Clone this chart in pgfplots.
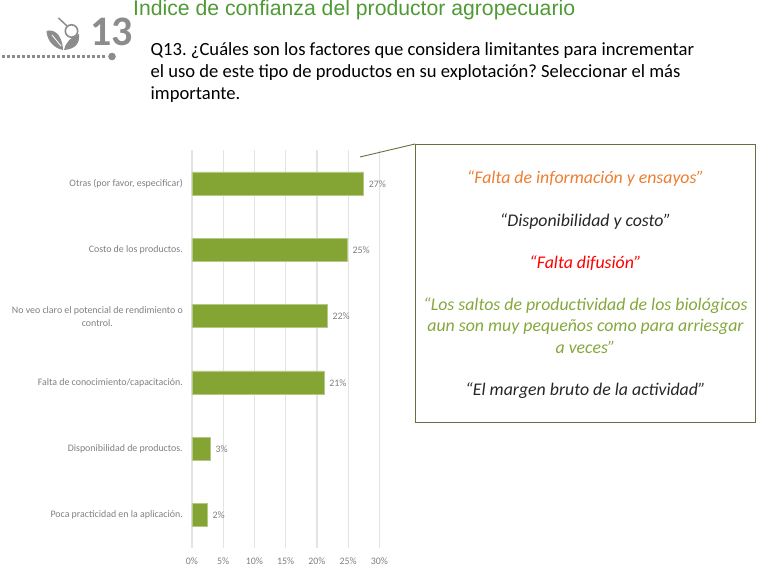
\documentclass[border=0pt]{standalone}
\usepackage{pgfplots}
\pgfplotsset{compat=1.18}
\usepackage{fontspec}
\setmainfont{Carlito}
\newfontfamily\titlefont{Liberation Sans}
\frenchspacing
\definecolor{bargreen}{HTML}{84A534}
\definecolor{titlegreen}{HTML}{4E9A34}
\definecolor{quotegreen}{HTML}{84A83C}
\definecolor{quoteorange}{HTML}{ED7D31}
\definecolor{ticktext}{HTML}{7F7F7F}
\definecolor{gridc}{HTML}{E4E4E4}
\definecolor{boxc}{HTML}{666E42}
\definecolor{icong}{HTML}{8C8C8C}
\begin{document}
\begin{tikzpicture}[x=1pt,y=1pt]
\path[use as bounding box] (0,0) rectangle (766,572);
\begin{axis}[
  at={(192pt,23.7pt)}, anchor=south west,
  scale only axis, width=187.5pt, height=398pt,
  xbar, bar width=23pt,
  xmin=0, xmax=30, ymin=-0.5, ymax=5.5,
  axis x line=bottom, axis y line=left,
  x axis line style={draw=none}, y axis line style={draw=none},
  xtick={0,5,10,15,20,25,30},
  xticklabels={0\%,5\%,10\%,15\%,20\%,25\%,30\%},
  ytick={0,1,2,3,4,5},
  yticklabels={Poca practicidad en la aplicación.,Disponibilidad de productos.,Falta de conocimiento/capacitación.,No veo claro el potencial de rendimiento o\\control.,Costo de los productos.,{Otras (por favor, especificar)}},
  yticklabel style={align=center, font=\fontsize{9.9}{13}\selectfont, text=ticktext, inner sep=0pt, xshift=-9pt},
  xticklabel style={font=\fontsize{9.9}{11}\selectfont, text=ticktext, inner sep=0pt, yshift=-9pt},
  major tick length=0pt,
  xmajorgrids, grid style={gridc, line width=1.2pt},
  clip=false,
  point meta=explicit symbolic,
  nodes near coords={\pgfplotspointmeta\%},
  nodes near coords style={font=\fontsize{9.9}{11}\selectfont, text=ticktext, anchor=west, xshift=2pt, yshift=-0.5pt},
]
\addplot[fill=bargreen, draw=bargreen!60!white, line width=0.5pt] coordinates {
 (2.4,0) [2]
 (2.9,1) [3]
 (21.1,2) [21]
 (21.6,3) [22]
 (24.8,4) [25]
 (27.4,5) [27]
};
\end{axis}
% title
\node[anchor=base west, inner sep=0pt, text=titlegreen, font=\titlefont\fontsize{21.2}{24}\selectfont] at (133,556) {Indice de confianza del productor agropecuario};
% question
\node[anchor=base west, inner sep=0pt, font=\fontsize{18.6}{22}\selectfont] at (150.5,516.5) {Q13. ¿Cuáles son los factores que considera limitantes para incrementar};
\node[anchor=base west, inner sep=0pt, font=\fontsize{18.6}{22}\selectfont] at (150.5,494.5) {el uso de este tipo de productos en su explotación? Seleccionar el más};
\node[anchor=base west, inner sep=0pt, font=\fontsize{18.6}{22}\selectfont] at (150.5,472.5) {importante.};
% 13 and icon
\node[anchor=base west, inner sep=0pt, text=icong, font=\bfseries\fontsize{42}{46}\selectfont] at (90,526) {13};
\draw[icong, line width=2.2pt, dash pattern=on 2.6pt off 2.4pt] (2,515.5) -- (106,515.5);
\fill[icong] (112,515.5) circle (3.8);
\fill[icong] (46.5,541) .. controls (52,543) and (62,540) .. (63,522) .. controls (53,524) and (47,532) .. (46.5,541) -- cycle;
\draw[white, line width=0.8pt] (52,537) -- (61,526);
\fill[icong] (64,522) .. controls (66,530) and (70,534) .. (79,538) .. controls (80,528) and (75,523) .. (64,522) -- cycle;
\fill[white] (71.5,541) circle (6);
\draw[icong, line width=1.6pt] (71.5,541) circle (6.2);
\draw[icong, line width=1.5pt] (67,546) -- (58.5,554);
% callout
\draw[boxc, line width=0.9pt] (360,415) -- (415,428);
\draw[boxc, line width=1pt] (415,427.7) rectangle (755,149.7);
\begin{scope}[every node/.style={anchor=base, inner sep=0pt, font=\itshape\fontsize{17.8}{21}\selectfont}]
\node[text=quoteorange] at (585.5,388.5) {“Falta de información y ensayos”};
\node[text=black!85] at (585.5,345.5) {“Disponibilidad y costo”};
\node[text=red] at (585.5,303.5) {“Falta difusión”};
\node[text=quotegreen] at (585.5,261) {“Los saltos de productividad de los biológicos};
\node[text=quotegreen] at (585.5,240) {aun son muy pequeños como para arriesgar};
\node[text=quotegreen] at (585.5,218) {a veces”};
\node[text=black!85] at (585.5,176) {“El margen bruto de la actividad”};
\end{scope}
\end{tikzpicture}
\end{document}
